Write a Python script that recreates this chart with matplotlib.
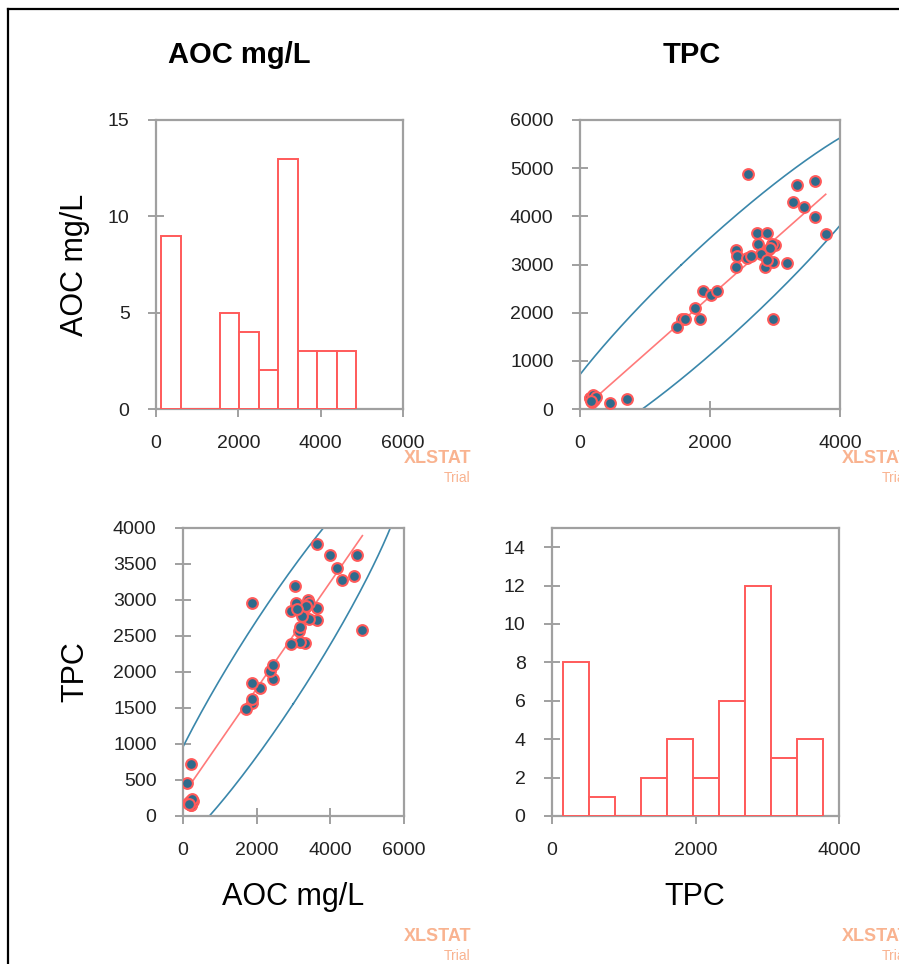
import numpy as np
import matplotlib
matplotlib.use('Agg')
import matplotlib.pyplot as plt
from matplotlib.lines import Line2D

plt.rcParams['font.family'] = ['Liberation Sans', 'DejaVu Sans']

# AOC (mg/L) and TPC readings, one pair per sample
aoc = [4870, 4652, 4735, 4306, 4189, 3995, 3636, 3650, 3650, 3421,
       3304, 3400, 3420, 3221, 3304, 3186, 3145, 3186, 2945, 2945,
       3062, 3028, 1866, 2440, 2371, 2440, 2094, 1866, 1866, 1866,
       1700, 228, 228, 283, 138, 121, 207, 180, 250, 160,
       3350, 3100]
tpc = [2590, 3333, 3620, 3272, 3451, 3620, 3780, 2728, 2882, 2743,
       2897, 3000, 2960, 2784, 2400, 2420, 2574, 2625, 2395, 2851,
       2964, 3190, 2964, 1897, 2015, 2103, 1774, 1846, 1564, 1620,
       1492, 153, 154, 205, 179, 462, 723, 210, 240, 170,
       2920, 2880]

aoc = np.array(aoc, float)
tpc = np.array(tpc, float)

W, H = 899, 964
fig = plt.figure(figsize=(W / 100, H / 100), dpi=100)

spine_col = '#a0a0a0'
red = '#ff5a5a'
blue = '#3a87ab'
wm_col = '#f9b390'


def add_ax(l, t, r, b):
    ax = fig.add_axes([l / W, 1 - b / H, (r - l) / W, (b - t) / H])
    for s in ax.spines.values():
        s.set_color(spine_col)
        s.set_linewidth(1.6)
    ax.tick_params(direction='inout', length=12, width=1.4, color=spine_col,
                   labelsize=14, labelcolor='#222222', pad=13,
                   top=False, right=False)
    return ax


def hist(ax, x):
    counts, edges = np.histogram(x, bins=10)
    ax.bar(edges[:-1], counts, width=np.diff(edges), align='edge',
           facecolor='white', edgecolor=red, linewidth=1.4, zorder=3)


def scatter_fit(ax, x, y):
    # regression line + 95% confidence ellipse
    b, a = np.polyfit(x, y, 1)
    cov = np.cov(x, y)
    vals, vecs = np.linalg.eigh(cov)
    k = np.sqrt(5.991)
    th = np.linspace(0, 2 * np.pi, 400)
    pts = vecs @ (k * np.sqrt(vals)[:, None] * np.array([np.cos(th), np.sin(th)]))
    ax.plot(x.mean() + pts[0], y.mean() + pts[1], color=blue, lw=1.2, zorder=2)
    xl = np.array([x.min(), x.max()])
    ax.plot(xl, a + b * xl, color='#ff7a7a', lw=1.2, zorder=3)
    ax.scatter(x, y, s=60, facecolor='#2e6b8c', edgecolor=red,
               linewidth=1.5, zorder=4)


# top left: histogram of AOC
ax1 = add_ax(156, 120, 403, 409)
hist(ax1, aoc)
ax1.set_xlim(0, 6000)
ax1.set_ylim(0, 15)
ax1.set_xticks([0, 2000, 4000, 6000])
ax1.set_yticks([0, 5, 10, 15])

# top right: AOC vs TPC
ax2 = add_ax(580, 120, 840, 409)
scatter_fit(ax2, tpc, aoc)
ax2.set_xlim(0, 4000)
ax2.set_ylim(0, 6000)
ax2.set_xticks([0, 2000, 4000])
ax2.set_yticks(range(0, 6001, 1000))

# bottom left: TPC vs AOC
ax3 = add_ax(183, 528, 404, 816)
scatter_fit(ax3, aoc, tpc)
ax3.set_xlim(0, 6000)
ax3.set_ylim(0, 4000)
ax3.set_xticks([0, 2000, 4000, 6000])
ax3.set_yticks(range(0, 4001, 500))

# bottom right: histogram of TPC
ax4 = add_ax(552, 528, 839, 816)
hist(ax4, tpc)
ax4.set_xlim(0, 4000)
ax4.set_ylim(0, 15)
ax4.set_xticks([0, 2000, 4000])
ax4.set_yticks(range(0, 15, 2))

# titles and axis labels
def ftext(x, y, s, **kw):
    fig.text(x / W, 1 - y / H, s, ha='center', va='center', **kw)

ftext(239, 55, 'AOC mg/L', fontsize=21, fontweight='bold')
ftext(692, 55, 'TPC', fontsize=21, fontweight='bold')
ftext(75, 265, 'AOC mg/L', fontsize=22, rotation=90)
ftext(75, 672, 'TPC', fontsize=22, rotation=90)
ftext(293, 897, 'AOC mg/L', fontsize=22)
ftext(695, 897, 'TPC', fontsize=22)

# XLSTAT trial watermarks
for xr, yb in [(471, 463), (909, 463), (471, 941), (909, 941)]:
    fig.text(xr / W, 1 - yb / H, 'XLSTAT', ha='right', va='baseline',
             fontsize=13, fontweight='bold', color=wm_col)
    fig.text(xr / W, 1 - (yb + 19) / H, 'Trial', ha='right', va='baseline',
             fontsize=10, color=wm_col)

# frame lines along top and left edge
fig.add_artist(Line2D([8 / W, 1], [1 - 9 / H, 1 - 9 / H], color='black', lw=1.6))
fig.add_artist(Line2D([8 / W, 8 / W], [0, 1 - 9 / H], color='black', lw=1.6))

fig.savefig('out.png', dpi=100)
